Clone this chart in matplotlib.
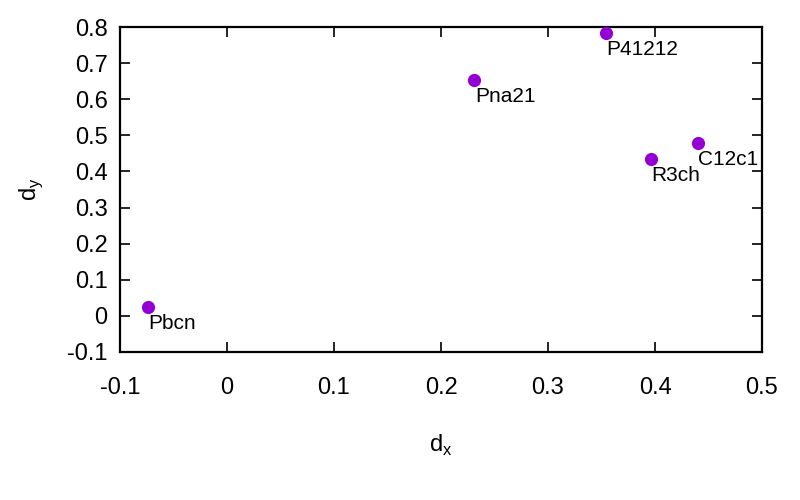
import matplotlib
matplotlib.use("Agg")
import matplotlib.pyplot as plt

names = ["Pbcn", "Pna21", "P41212", "R3ch", "C12c1"]
dx = [-0.074, 0.231, 0.354, 0.396, 0.440]
dy = [0.025, 0.654, 0.784, 0.435, 0.479]
xticks = [-0.1, 0, 0.1, 0.2, 0.3, 0.4, 0.5]
yticks = [-0.1, 0, 0.1, 0.2, 0.3, 0.4, 0.5, 0.6, 0.7, 0.8]

plt.rcParams['font.family'] = ['Liberation Sans', 'DejaVu Sans']
fig = plt.figure(figsize=(8, 5), dpi=100)
ax = fig.add_axes([0.15, 0.296, 0.8025, 0.65])
ax.scatter(dx, dy, s=90, color='#9400d3', zorder=3, linewidths=0)
for n, x, y in zip(names, dx, dy):
    ax.annotate(n, (x, y), xytext=(0.5, -5), textcoords='offset points',
                ha='left', va='top', fontsize=15)
ax.set_xlim(-0.1, 0.5)
ax.set_ylim(-0.1, 0.8)
ax.set_xticks(xticks)
ax.set_yticks(yticks)
ax.set_xticklabels([f"{t:g}" for t in xticks])
ax.set_yticklabels([f"{t:g}" for t in yticks])
ax.tick_params(direction='in', length=7, width=1.2, top=True, right=True,
               labelsize=17, pad=9)
ax.tick_params(axis='x', pad=18)
for s in ax.spines.values():
    s.set_linewidth(1.6)
ax.set_xlabel(r"d$_\mathregular{x}$", fontsize=17, labelpad=24)
ax.set_ylabel(r"d$_\mathregular{y}$", fontsize=17, labelpad=16)
fig.savefig("out.png", dpi=100)
